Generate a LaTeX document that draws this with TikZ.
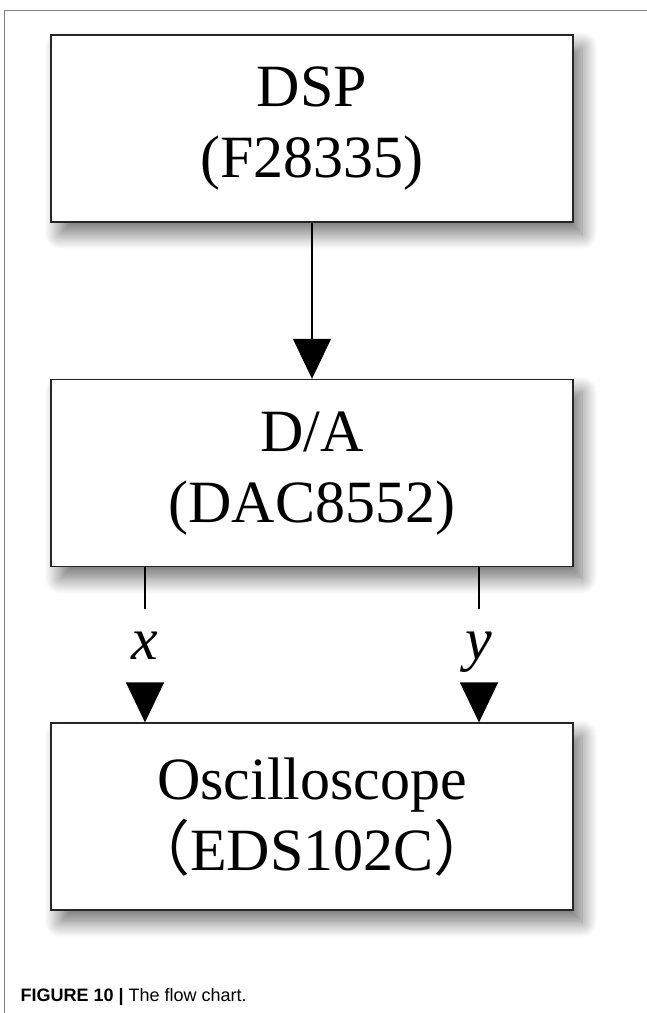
\documentclass[tikz,border=0pt]{standalone}
\usepackage{fontspec}
\setmainfont{Liberation Serif}
\setsansfont{Liberation Sans}
\newfontfamily\cjk{Noto Sans CJK SC}
\usetikzlibrary{arrows.meta}
\usetikzlibrary{positioning}
\usetikzlibrary{shadows.blur}

\begin{document}
\begin{tikzpicture}[x=1pt, y=-1pt,
  block/.style={draw=black!85, line width=1.6pt, fill=white,
    minimum width=522pt, minimum height=187pt, align=center,
    font=\fontsize{60}{71}\selectfont,
    execute at begin node={\rule{0pt}{49pt}},
    blur shadow={shadow xshift=9pt, shadow yshift=-12pt,
      shadow blur radius=15pt, shadow blur steps=14,
      shadow opacity=55}},
  sig/.style={inner sep=0pt, minimum height=73pt, text height=26pt,
    text depth=0pt, font=\fontsize{60}{72}\selectfont\itshape},
  wire/.style={line width=1.3pt},
  tip/.style={wire, -{Triangle[length=40pt, width=38pt]}}]
\useasboundingbox (0,0) rectangle (647,1013);
\draw[black!50, line width=1pt] (647,10) -- (4,10) -- (4,1013);

\node[block] (dsp) at (312,128.5) {DSP\\(F28335)};
\node[block, below=156pt of dsp] (da) {D/A\\(DAC8552)};
\node[block, below=155pt of da] (osc)
  {Oscilloscope\\{\cjk\makebox[0.7em][r]{（}}EDS102C{\cjk\makebox[0.7em][l]{）}}};

\node[sig] (xl) at (145,646) {x};
\node[sig] (yl) at (479,646) {y};

\draw[tip] (dsp) -- (da);
\draw[wire] (da.south -| xl) -- (xl);
\draw[tip] (xl) -- (osc.north -| xl);
\draw[wire] (da.south -| yl) -- (yl);
\draw[tip] (yl) -- (osc.north -| yl);

\node[anchor=base west, font=\sffamily\fontsize{18}{21}\selectfont]
  (cap) at (17,1001) {\textbf{FIGURE 10 |} The flow chart.};
\end{tikzpicture}
\end{document}
